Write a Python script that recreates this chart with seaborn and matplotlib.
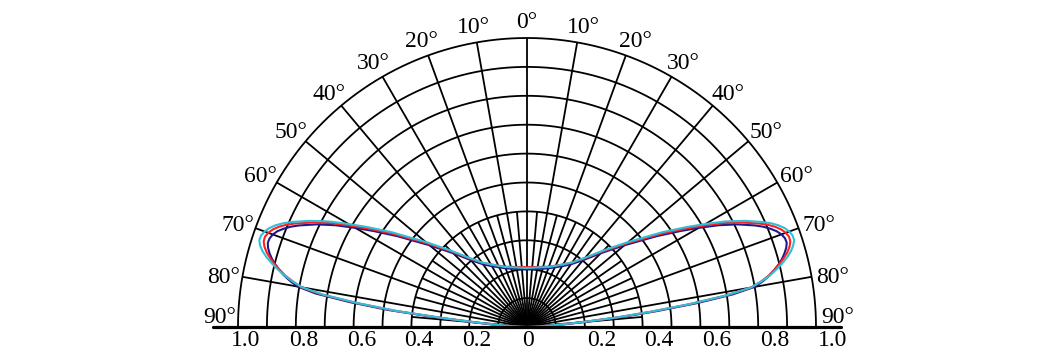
import numpy as np
import pandas as pd
import matplotlib
matplotlib.use("Agg")
import matplotlib.pyplot as plt
import seaborn as sns

# ---------------- data ----------------
angles = [0, 10, 20, 30, 35, 40, 45, 50, 55, 58, 60, 62, 64, 66, 67, 68, 69, 70, 71, 72,
          73, 74, 75, 76, 77, 78, 79, 80, 81, 82, 83, 84, 85, 86, 87, 88, 90]

red_right = [0.207, 0.211, 0.222, 0.250, 0.272, 0.310, 0.370, 0.450, 0.560, 0.640, 0.700,
             0.765, 0.825, 0.880, 0.905, 0.926, 0.942, 0.953, 0.959, 0.958, 0.950, 0.937,
             0.920, 0.900, 0.878, 0.855, 0.825, 0.788, 0.700, 0.570, 0.430, 0.310, 0.190,
             0.110, 0.055, 0.025, 0.0]
red_left = [0.207, 0.211, 0.222, 0.250, 0.272, 0.310, 0.370, 0.450, 0.560, 0.640, 0.700,
            0.765, 0.825, 0.880, 0.905, 0.926, 0.942, 0.953, 0.959, 0.958, 0.950, 0.937,
            0.920, 0.900, 0.878, 0.855, 0.825, 0.793, 0.720, 0.595, 0.460, 0.290, 0.165,
            0.100, 0.050, 0.022, 0.0]

cyan_right = [0.204, 0.209, 0.221, 0.250, 0.273, 0.313, 0.375, 0.458, 0.572, 0.653, 0.713,
              0.778, 0.838, 0.893, 0.918, 0.939, 0.955, 0.966, 0.972, 0.972, 0.963, 0.950,
              0.932, 0.910, 0.886, 0.860, 0.826, 0.786, 0.695, 0.565, 0.425, 0.305, 0.185,
              0.105, 0.052, 0.024, 0.0]
cyan_left = [0.204, 0.209, 0.221, 0.250, 0.273, 0.313, 0.375, 0.458, 0.572, 0.653, 0.713,
             0.778, 0.838, 0.893, 0.918, 0.939, 0.955, 0.966, 0.973, 0.974, 0.966, 0.952,
             0.933, 0.910, 0.885, 0.858, 0.826, 0.790, 0.712, 0.588, 0.452, 0.285, 0.160,
             0.096, 0.048, 0.021, 0.0]

navy_right = [0.199, 0.204, 0.216, 0.243, 0.265, 0.302, 0.361, 0.440, 0.548, 0.627, 0.686,
              0.750, 0.810, 0.864, 0.888, 0.908, 0.925, 0.937, 0.944, 0.945, 0.938, 0.927,
              0.914, 0.898, 0.878, 0.858, 0.832, 0.800, 0.720, 0.595, 0.455, 0.330, 0.205,
              0.120, 0.060, 0.028, 0.0]
navy_left = [0.199, 0.204, 0.216, 0.243, 0.265, 0.302, 0.361, 0.440, 0.548, 0.627, 0.686,
             0.750, 0.810, 0.864, 0.888, 0.908, 0.925, 0.936, 0.942, 0.943, 0.937, 0.927,
             0.914, 0.898, 0.880, 0.860, 0.835, 0.806, 0.740, 0.620, 0.485, 0.310, 0.180,
             0.112, 0.056, 0.026, 0.0]

series_names = ["navy", "red", "cyan"]
series_colors = {"navy": "#1f1a8a", "red": "#ff1f1f", "cyan": "#30bfd8"}

radial_ticks = [-1.0, -0.8, -0.6, -0.4, -0.2, 0.0, 0.2, 0.4, 0.6, 0.8, 1.0]
radial_tick_labels = ["1.0", "0.8", "0.6", "0.4", "0.2", "0", "0.2", "0.4", "0.6", "0.8", "1.0"]
angle_ticks = [-90, -80, -70, -60, -50, -40, -30, -20, -10, 0, 10, 20, 30, 40, 50, 60, 70, 80, 90]

# ---------------- build long table ----------------
rows = []
halves = {"navy": (navy_left, navy_right), "red": (red_left, red_right),
          "cyan": (cyan_left, cyan_right)}
for name in series_names:
    left, right = halves[name]
    ang = [-a for a in angles[::-1]] + angles[1:]
    rr = left[::-1] + right[1:]
    for order, (a, r) in enumerate(zip(ang, rr)):
        t = np.deg2rad(a)
        rows.append({"series": name, "order": order, "angle": a, "r": r,
                     "x": r * np.sin(t), "y": r * np.cos(t)})
df = pd.DataFrame(rows)

# ---------------- figure ----------------
sns.set_theme(style="white")
plt.rcParams["font.family"] = ["Liberation Serif", "DejaVu Serif"]

W, H, DPI = 1054, 360, 100
fig = plt.figure(figsize=(W / DPI, H / DPI), dpi=DPI)
ax = fig.add_axes([0, 0, 1, 1])
scale = 289.0          # pixels per unit radius
cx, cy = 527.0, 327.0  # centre in pixel coords (from top)
ax.set_xlim(-cx / scale, (W - cx) / scale)
ax.set_ylim(-(H - cy) / scale, cy / scale)
ax.set_aspect("equal")
ax.axis("off")

grid_kw = dict(color="black", lw=1.3, solid_capstyle="butt", zorder=1)
tt = np.deg2rad(np.linspace(-90, 90, 721))
for r in np.arange(0.1, 1.001, 0.1):
    ax.plot(r * np.sin(tt), r * np.cos(tt), **grid_kw)
for a in range(-80, 81, 10):
    t = np.deg2rad(a)
    ax.plot([0, np.sin(t)], [0, np.cos(t)], **grid_kw)
for a in range(-85, 86, 10):
    t = np.deg2rad(a)
    ax.plot([0, 0.4 * np.sin(t)], [0, 0.4 * np.cos(t)], **grid_kw)
ax.plot([-1.085, 1.085], [0, 0], color="black", lw=2.3, zorder=4)

# ---------------- curves ----------------
sns.lineplot(data=df, x="x", y="y", hue="series", hue_order=series_names,
             palette=series_colors, units="series", estimator=None, sort=False,
             legend=False, lw=1.5, ax=ax, zorder=3)

# ---------------- labels ----------------
for v, lab in zip(radial_ticks, radial_tick_labels):
    off = 0.027 if v < 0 else (0.057 if v > 0 else 0.004)
    ax.text(v + off, -0.045, lab, ha="center", va="center", fontsize=17, color="black")

for a in angle_ticks:
    aa = a if abs(a) != 90 else np.sign(a) * 87.5
    t = np.deg2rad(aa)
    rl = 1.065
    ax.text(rl * np.sin(t) + (0.01 if a > 0 else 0.0), rl * np.cos(t) - 0.012,
            f"{abs(a)}°", ha="center", va="center", fontsize=17, color="black")

fig.savefig("out.png", dpi=DPI)
